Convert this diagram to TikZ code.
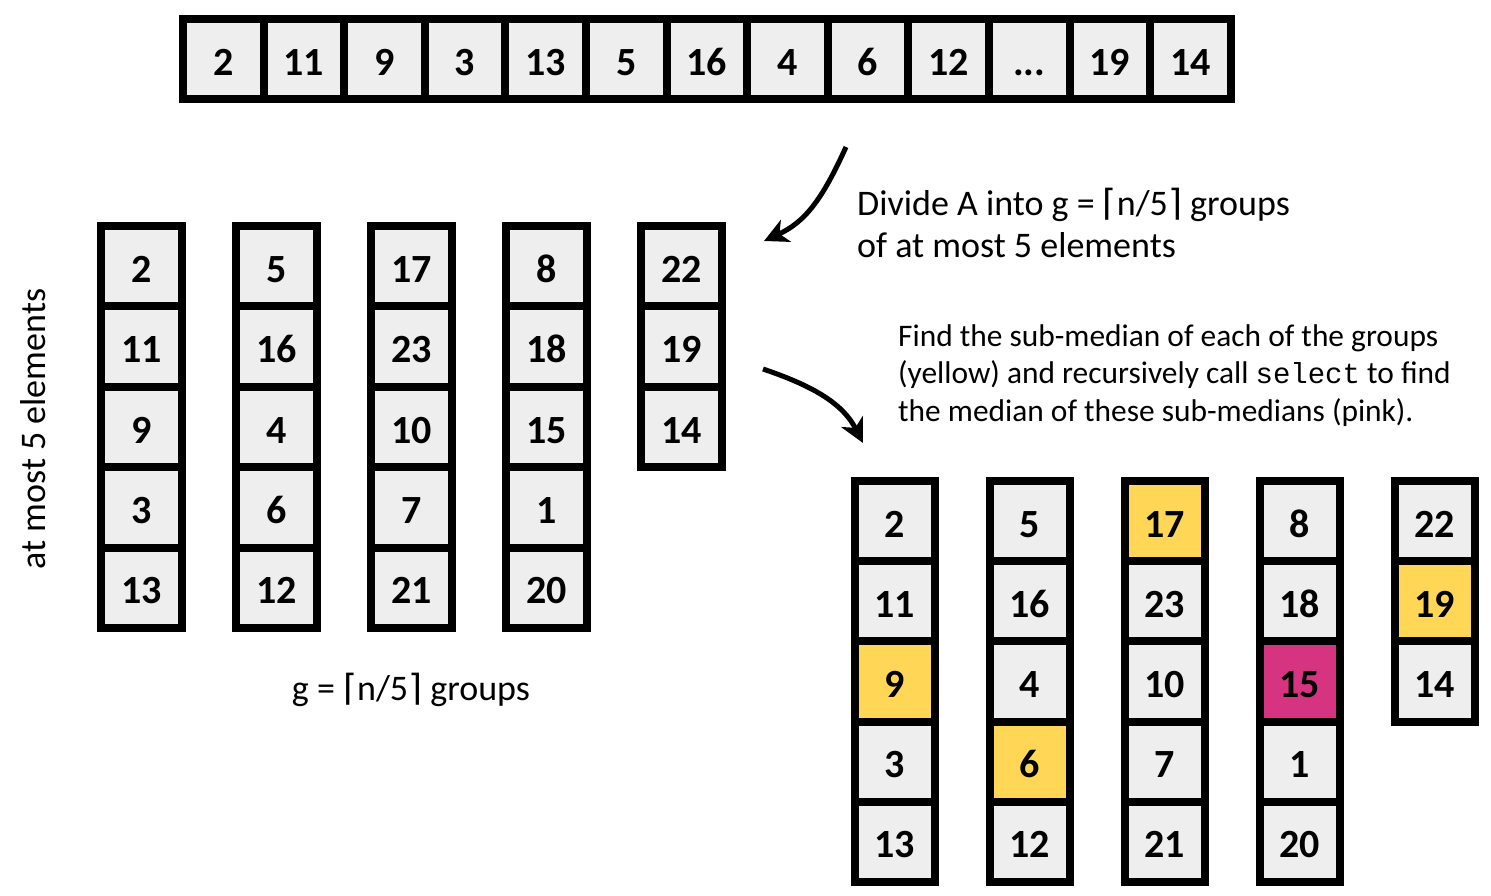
\documentclass[tikz,border=0pt]{standalone}
\usepackage{fontspec}
\setmainfont{Carlito}
\setmonofont{Liberation Mono}
\newfontfamily\dvfont{DejaVu Sans}
\usetikzlibrary{arrows.meta}
\definecolor{cellgray}{RGB}{238,238,238}
\definecolor{subyellow}{RGB}{255,214,85}
\definecolor{subpink}{RGB}{214,51,128}
\newcommand{\lc}{{\dvfont ⌈}}
\newcommand{\rc}{{\dvfont ⌉}}
\newcommand{\mydots}{...}
\tikzset{
  cellbox/.style={rectangle, draw=black, line width=8pt, fill=cellgray,
    minimum width=80.6pt, minimum height=80pt, inner sep=0pt,
    font=\bfseries\fontsize{40}{40}\selectfont, text depth=0pt, text height=32pt},
  gcell/.style={cellbox, minimum width=81pt, minimum height=80.4pt},
  rcell/.style={cellbox, minimum width=80pt, minimum height=80.2pt},
  ylw/.style={fill=subyellow},
  pnk/.style={fill=subpink},
  bigtext/.style={font=\fontsize{36}{36}\selectfont, inner sep=0pt},
  midtext/.style={font=\fontsize{31.4}{31.4}\selectfont, inner sep=0pt},
  curvearrow/.style={line width=5pt, -{Stealth[length=24pt,width=24pt,inset=7pt]}}
}
\begin{document}
\begin{tikzpicture}[x=1pt,y=-1pt]
\useasboundingbox (0,0) rectangle (1491,896);
% top array
\foreach \v [count=\i from 0] in {2,11,9,3,13,5,16,4,6,12,\mydots,19,14}{
  \node[cellbox] (t\i) at ({183+80.6*(\i+0.5)},59.5) {\v};
}
% left groups
\foreach \col/\vals [count=\k from 0] in {a/{2,11,9,3,13},b/{5,16,4,6,12},c/{17,23,10,7,21},d/{8,18,15,1,20},e/{22,19,14}}{
  \foreach \v [count=\j from 0] in \vals {
    \node[gcell] (l\col\j) at ({141.5+135*\k},{266.2+80.4*\j}) {\v};
  }
}
% right groups
\foreach \col/\vals [count=\k from 0] in {a/{2,11,9,3,13},b/{5,16,4,6,12},c/{17,23,10,7,21},d/{8,18,15,1,20},e/{22,19,14}}{
  \foreach \v [count=\j from 0] in \vals {
    \node[rcell] (r\col\j) at ({894.5+135*\k},{521+80.2*\j}) {\v};
  }
}
% highlights
\node[rcell,ylw] at (ra2) {9};
\node[rcell,ylw] at (rb3) {6};
\node[rcell,ylw] at (rc0) {17};
\node[rcell,pnk] at (rd2) {15};
\node[rcell,ylw] at (re1) {19};
% texts
\node[bigtext, anchor=base west] (d1) at (857,215) {Divide A into g = \lc n/5\rc{} groups};
\node[bigtext, anchor=base west] (d2) at (857,257) {of at most 5 elements};
\node[midtext, anchor=base west] (f1) at (898,346) {Find the sub-median of each of the groups};
\node[midtext, anchor=base west] (f2) at (898,383) {(yellow) and recursively call {\ttfamily\fontsize{29}{29}\selectfont select} to find};
\node[midtext, anchor=base west] (f3) at (898,421) {the median of these sub-medians (pink).};
\node[bigtext, rotate=90] (side) at (33,429) {at most 5 elements};
\node[bigtext, anchor=base] (gg) at (411,700) {g = \lc n/5\rc{} groups};
% arrows
\coordinate (a1s) at (846,147);
\coordinate (a1e) at (764,241);
\coordinate (a2s) at (763,369);
\coordinate (a2e) at (863,443);
\draw[curvearrow] (a1s) .. controls (822,200) and (805,222) .. (a1e);
\draw[curvearrow] (a2s) .. controls (810,385) and (842,402) .. (a2e);
\end{tikzpicture}
\end{document}
